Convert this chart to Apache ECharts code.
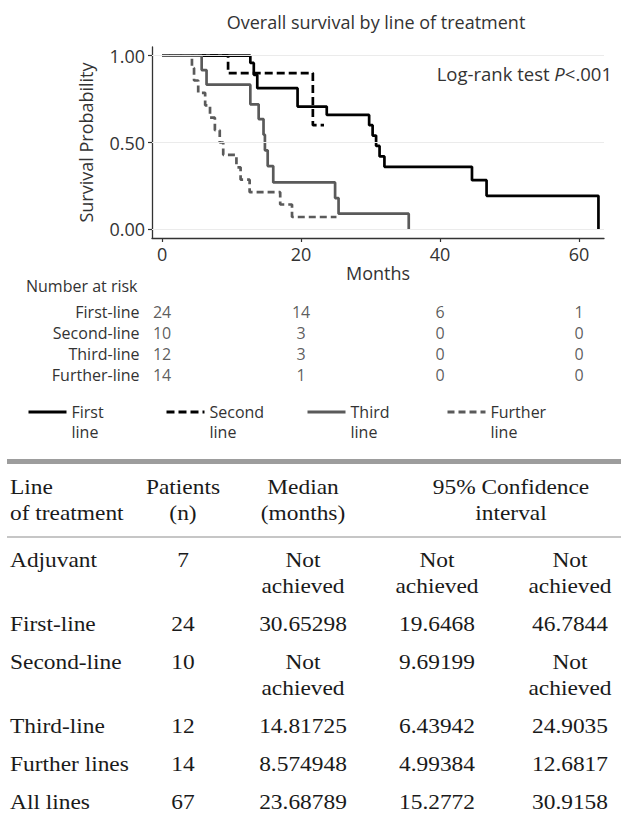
<!DOCTYPE html>
<html>
<head>
<meta charset="utf-8">
<script src="https://cdn.jsdelivr.net/npm/echarts@6/dist/echarts.min.js"></script>
<style>
  html, body { margin: 0; padding: 0; background: #fff; }
  #chart { width: 621px; height: 829px; }
</style>
</head>
<body>
<div id="chart"></div>
<script>
// Kaplan-Meier steps: [month, survival probability after the step]
const firstLine = [[0, 1], [12.7, 0.958], [13.2, 0.89], [13.7, 0.813], [19.5, 0.707], [23.7, 0.659],
  [29.8, 0.6], [30.3, 0.54], [30.8, 0.48], [31.3, 0.42], [32.0, 0.36], [44.6, 0.283], [46.7, 0.193], [62.8, 0]];
const secondLine = [[0, 1], [9.5, 0.9], [21.7, 0.6], [23.3, 0.6]];
const thirdLine = [[0, 1], [5.7, 0.917], [6.4, 0.833], [12.7, 0.72], [13.9, 0.635], [14.6, 0.545],
  [14.8, 0.455], [15.2, 0.364], [16.0, 0.27], [24.9, 0.18], [25.4, 0.09], [35.5, 0]];
const furtherLine = [[0, 1], [4.3, 0.929], [4.6, 0.857], [5.2, 0.786], [6.2, 0.714], [6.9, 0.643],
  [7.6, 0.571], [8.3, 0.5], [8.8, 0.429], [10.7, 0.357], [11.3, 0.286], [12.6, 0.214],
  [17.0, 0.143], [18.7, 0.071], [25.1, 0.071]];

const seriesNames = ['First line', 'Second line', 'Third line', 'Further line'];
const xTicks = [0, 20, 40, 60];
const yTicks = [0, 0.5, 1];

const riskGroups = ['First-line', 'Second-line', 'Third-line', 'Further-line'];
const riskMonths = [0, 20, 40, 60];
const riskCounts = [[24, 14, 6, 1], [10, 3, 0, 0], [12, 3, 0, 0], [14, 1, 0, 0]];

const tableHeader = ['Line\nof treatment', 'Patients\n(n)', 'Median\n(months)', '95% Confidence\ninterval'];
const tableLines = ['Adjuvant', 'First-line', 'Second-line', 'Third-line', 'Further lines', 'All lines'];
const tablePatients = ['7', '24', '10', '12', '14', '67'];
const tableMedian = ['Not\nachieved', '30.65298', 'Not\nachieved', '14.81725', '8.574948', '23.68789'];
const tableCiLow = ['Not\nachieved', '19.6468', '9.69199', '6.43942', '4.99384', '15.2772'];
const tableCiHigh = ['Not\nachieved', '46.7844', 'Not\nachieved', '24.9035', '12.6817', '30.9158'];

const FONT = '"Open Sans", "Noto Sans", sans-serif';
const SERIF = '"Liberation Serif", "DejaVu Serif", serif';
const TXT = '#333';
const GREY = '#5a5a5a';

const myChart = echarts.init(document.getElementById('chart'), null, { renderer: 'svg' });

const curveStyles = [
  { data: firstLine, color: '#000', type: 'solid' },
  { data: secondLine, color: '#000', type: [8, 4] },
  { data: thirdLine, color: GREY, type: 'solid' },
  { data: furtherLine, color: GREY, type: [7, 4] },
];

const curves = curveStyles.map((c, i) => ({
  name: seriesNames[i],
  type: 'line',
  xAxisIndex: 0,
  yAxisIndex: 0,
  data: c.data,
  step: 'end',
  symbol: 'none',
  showSymbol: false,
  silent: true,
  z: 3,
  itemStyle: { color: c.color },
  lineStyle: { color: c.color, width: 2.7, type: c.type, cap: 'butt' },
}));

// light horizontal grid lines
const gridSeries = {
  type: 'line',
  xAxisIndex: 0,
  yAxisIndex: 0,
  data: [],
  silent: true,
  z: 1,
  markLine: {
    silent: true,
    symbol: 'none',
    label: { show: false },
    lineStyle: { color: '#ebebeb', width: 1, type: 'solid' },
    data: yTicks.map(v => ({ yAxis: v })),
  },
};

const riskData = [];
riskCounts.forEach((row, i) => {
  row.forEach((n, j) => riskData.push([riskMonths[j], riskGroups[i], n]));
});

const riskSeries = {
  type: 'scatter',
  xAxisIndex: 1,
  yAxisIndex: 1,
  data: riskData,
  symbolSize: 1,
  silent: true,
  itemStyle: { color: 'rgba(0,0,0,0)' },
  label: {
    show: true,
    position: 'inside',
    formatter: p => p.value[2],
    fontFamily: FONT,
    fontSize: 16,
    color: TXT,
  },
  labelLayout: { hideOverlap: false },
};

const legendLeft = [22, 160, 301, 441];
const legends = seriesNames.map((name, i) => ({
  data: [name],
  left: legendLeft[i],
  top: 377,
  orient: 'horizontal',
  itemWidth: 38,
  itemHeight: 12,
  itemGap: 3,
  selectedMode: false,
  itemStyle: { opacity: 0 },
  lineStyle: { width: 3 },
  formatter: n => '\n' + n.replace(' ', '\n'),
  textStyle: { fontFamily: FONT, fontSize: 16, lineHeight: 20, color: TXT },
}));

// table drawn as graphic text
const tableGraphics = [];
const colX = [10, 183, 303, 437, 570];
const tableFont = '20px ' + SERIF;
const addCell = (text, x, y, align) => {
  tableGraphics.push({
    type: 'text',
    x, y,
    scaleX: 1.17,
    silent: true,
    style: { text, font: tableFont, fill: '#1a1a1a', align, verticalAlign: 'top', lineHeight: 26 },
  });
};
tableGraphics.push({ type: 'rect', shape: { x: 7, y: 459, width: 614, height: 5 }, style: { fill: '#9d9d9d' }, silent: true });
tableGraphics.push({ type: 'line', shape: { x1: 7, y1: 537, x2: 621, y2: 537 }, style: { stroke: '#b3b3b3', lineWidth: 1.5 }, silent: true });
addCell(tableHeader[0], colX[0], 475, 'left');
addCell(tableHeader[1], colX[1], 475, 'center');
addCell(tableHeader[2], colX[2], 475, 'center');
addCell(tableHeader[3], 511, 475, 'center');
let rowTop = 548;
tableLines.forEach((line, i) => {
  const cells = [line, tablePatients[i], tableMedian[i], tableCiLow[i], tableCiHigh[i]];
  cells.forEach((c, k) => addCell(c, colX[k], rowTop, k === 0 ? 'left' : 'center'));
  const lines = Math.max(...cells.map(c => c.split('\n').length));
  rowTop += 38 + 26 * (lines - 1);
});

myChart.setOption({
  animation: false,
  backgroundColor: '#fff',
  title: {
    text: 'Overall survival by line of treatment',
    left: 371,
    top: 8,
    textAlign: 'center',
    textStyle: { fontFamily: FONT, fontSize: 18, fontWeight: 'normal', color: TXT },
  },
  legend: legends,
  grid: [
    { left: 152, top: 47, width: 452, height: 191 },
    { left: 152, top: 301, width: 452, height: 84.4 },
  ],
  xAxis: [
    {
      type: 'value',
      gridIndex: 0,
      min: -1.45,
      max: 63.6,
      name: 'Months',
      nameLocation: 'middle',
      nameGap: 22,
      nameTextStyle: { fontFamily: FONT, fontSize: 18, color: TXT },
      axisLine: { show: true, onZero: false, lineStyle: { color: '#333', width: 1.3 } },
      axisTick: { show: true, length: 4, customValues: xTicks, lineStyle: { color: '#333', width: 1.2 } },
      axisLabel: { customValues: xTicks, margin: 7, fontFamily: FONT, fontSize: 18, color: TXT },
      splitLine: { show: false },
    },
    {
      type: 'value',
      gridIndex: 1,
      min: -1.45,
      max: 63.6,
      show: false,
    },
  ],
  yAxis: [
    {
      type: 'value',
      gridIndex: 0,
      min: -0.05,
      max: 1.05,
      name: 'Survival Probability',
      nameLocation: 'middle',
      nameGap: 57,
      nameTextStyle: { fontFamily: FONT, fontSize: 18, color: TXT },
      axisLine: { show: true, onZero: false, lineStyle: { color: '#333', width: 1.3 } },
      axisTick: { show: true, length: 4, customValues: yTicks, lineStyle: { color: '#333', width: 1.2 } },
      axisLabel: {
        customValues: yTicks,
        margin: 7,
        formatter: v => v.toFixed(2),
        fontFamily: FONT,
        fontSize: 18,
        color: TXT,
      },
      splitLine: { show: false },
    },
    {
      type: 'category',
      gridIndex: 1,
      data: riskGroups,
      inverse: true,
      axisLine: { show: false },
      axisTick: { show: false },
      axisLabel: { margin: 12.5, fontFamily: FONT, fontSize: 16, color: TXT },
      splitLine: { show: false },
    },
  ],
  graphic: [
    {
      type: 'text',
      x: 612,
      y: 73,
      silent: true,
      style: {
        text: '{n|Log-rank test }{i|P}{n|<.001}',
        align: 'right',
        verticalAlign: 'middle',
        rich: {
          n: { fontFamily: FONT, fontSize: 18.5, fill: TXT, color: TXT },
          i: { fontFamily: FONT, fontSize: 18.5, fontStyle: 'italic', fill: TXT, color: TXT },
        },
      },
    },
    {
      type: 'text',
      x: 26,
      y: 286,
      silent: true,
      style: { text: 'Number at risk', font: '16px ' + FONT, fill: TXT, align: 'left', verticalAlign: 'middle' },
    },
    ...tableGraphics,
  ],
  series: [gridSeries, ...curves, riskSeries],
});
</script>
</body>
</html>
